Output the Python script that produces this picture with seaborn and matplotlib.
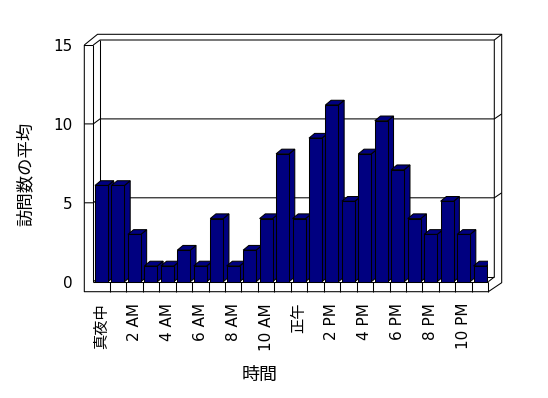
import numpy as np
import pandas as pd
import matplotlib
matplotlib.use("Agg")
import matplotlib.pyplot as plt
import seaborn as sns
from matplotlib.lines import Line2D
from matplotlib.patches import Polygon

# ---- data ----
hours = [f"{h}時" for h in range(24)]
visits = [6.1, 6.1, 3, 1, 1, 2, 1, 4, 1, 2, 4, 8.1, 4, 9.1, 11.2, 5.1,
          8.1, 10.2, 7.1, 4, 3, 5.1, 3, 1]
tick_labels = ["真夜中", "2 AM", "4 AM", "6 AM", "8 AM", "10 AM",
               "正午", "2 PM", "4 PM", "6 PM", "8 PM", "10 PM"]
y_ticks = [0, 5, 10, 15]
y_label = "訪問数の平均"
x_label = "時間"

sns.set_theme(style="white")
plt.rcParams["font.family"] = ["DejaVu Sans", "Noto Sans CJK JP"]
plt.rcParams["text.color"] = "black"
plt.rcParams["axes.labelcolor"] = "black"
plt.rcParams["xtick.color"] = "black"
plt.rcParams["ytick.color"] = "black"

W, H = 548, 398
fig = plt.figure(figsize=(W / 100, H / 100), dpi=100)
fig.patch.set_facecolor("white")

# plot area (front face of floor / value axis) in pixels
L, R, B, T = 93.3, 488.3, 281.7, 45.0
ax = fig.add_axes([L / W, 1 - B / H, (R - L) / W, (B - T) / H])
ax.patch.set_visible(False)

df = pd.DataFrame({"hour": hours, "visits": visits})
sns.barplot(data=df, x="hour", y="visits", order=hours, color="#000080",
            saturation=1, edgecolor="black", linewidth=0.75, width=0.79,
            errorbar=None, ax=ax)
ax.set_xlim(-0.5, len(hours) - 0.5)
ax.set_ylim(y_ticks[0], y_ticks[-1])
for s in ax.spines.values():
    s.set_visible(False)

# 3D depth of bars (pixels -> data)
ddx = 5.7 / (R - L) * len(hours)
ddy = 4.7 / (B - T) * (y_ticks[-1] - y_ticks[0])
for i, p in enumerate(ax.patches):
    x0, w, h = p.get_x(), p.get_width(), p.get_height()
    z = 3 + i * 0.1
    p.set_zorder(z + 0.05)
    side = Polygon([(x0 + w, 0), (x0 + w + ddx, ddy), (x0 + w + ddx, h + ddy), (x0 + w, h)],
                   closed=True, facecolor="#000080", edgecolor="black", lw=0.75, zorder=z)
    top = Polygon([(x0, h), (x0 + ddx, h + ddy), (x0 + w + ddx, h + ddy), (x0 + w, h)],
                  closed=True, facecolor="#000080", edgecolor="black", lw=0.75, zorder=z)
    ax.add_patch(side)
    ax.add_patch(top)


def pl(xs, ys, z=1):
    ax.add_line(Line2D([x / W for x in xs], [1 - y / H for y in ys],
                       transform=fig.transFigure, color="black", lw=0.75,
                       clip_on=False, zorder=z, solid_capstyle="butt"))


def py(v):
    return B - (B - T) * (v - y_ticks[0]) / (y_ticks[-1] - y_ticks[0])


# walls / floor frame
OL, BX, BR, OR = 84.3, 100.0, 494.3, 501.7
pl([OL, 97.5, OR, OR, R, OL, OL], [T, 34.3, 34.3, 282.7, 291.7, 291.7, T])
pl([OL, L], [T, T])
pl([L, L], [T, B])
pl([L, BX, BR, BR], [T, T - 5, T - 5, 277])
pl([BR, OR], [T - 5, 34.3])
pl([BX, BX], [T - 5, 277])
pl([BX, BR], [277, 277])
pl([L, BX], [B, 277])
pl([L, R], [B, B])
pl([R, BR], [B, 277])
pl([R, R], [B, 291.7])
for v in y_ticks[1:-1]:
    yy = py(v)
    pl([OL, L, BX, BR, OR], [yy, yy, yy - 5, yy - 5, yy - 10])
# floor category cells
for k in range(1, len(hours)):
    xpix = L + (R - L) * k / len(hours)
    pl([xpix, xpix], [B, 291.7])

# ticks and labels
ax.set_xticks(range(0, len(hours), 2))
ax.set_xticklabels(tick_labels, fontsize=11)
for lbl in ax.get_xticklabels():
    lbl.set_rotation(90)
    lbl.set_rotation_mode("default")
    lbl.set_va("top")
    lbl.set_ha("center")
ax.tick_params(axis="x", length=0, pad=15.3, colors="black")
ax.set_yticks(y_ticks)
ax.set_yticklabels([str(v) for v in y_ticks], fontsize=11)
ax.tick_params(axis="y", length=0, pad=15, colors="black")

ax.set_ylabel(y_label, fontsize=12.5, color="black")
ax.yaxis.set_label_coords((26 - L) / (R - L), (B - 174) / (B - T))
ax.yaxis.label.set_va("center")
ax.set_xlabel(x_label, fontsize=13, color="black")
ax.xaxis.set_label_coords((260 - L) / (R - L), (B - 375) / (B - T))
ax.xaxis.label.set_va("center")

fig.savefig("out.png", dpi=100, facecolor="white")
